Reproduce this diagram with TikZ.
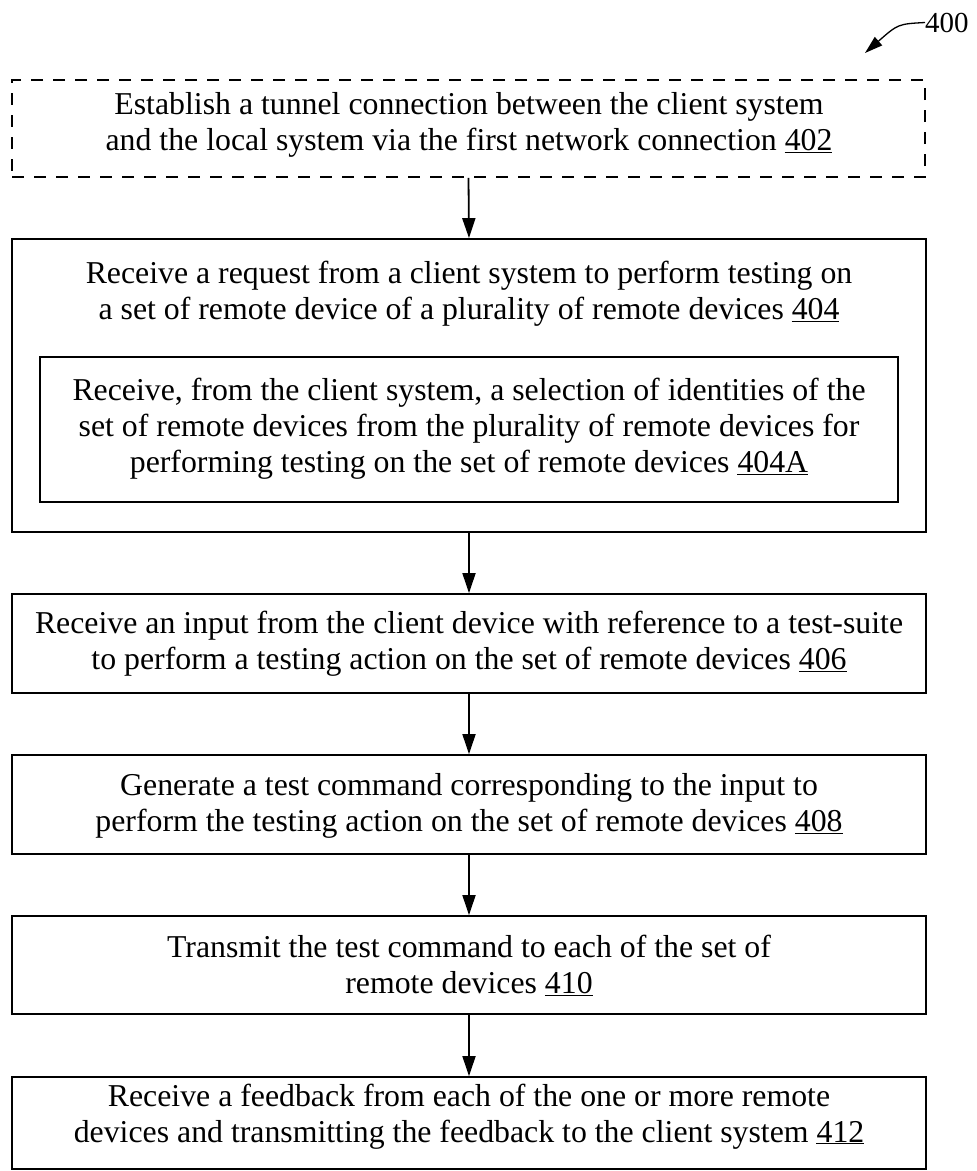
\documentclass[tikz,border=0pt]{standalone}
\usepackage{fontspec}
\setmainfont{Liberation Serif}
\usetikzlibrary{arrows.meta}
\begin{document}
\begin{tikzpicture}[x=1pt,y=-1pt,
  box/.style={draw, line width=1.8pt, rectangle, inner sep=0pt},
  dbox/.style={box, dash pattern=on 12pt off 10pt},
  txt/.style={font=\fontsize{31.8}{36}\selectfont, align=center, inner sep=0pt, anchor=base},
  arr/.style={line width=1.8pt, -{Triangle[length=20pt,width=13pt]}}]
\useasboundingbox (0,0) rectangle (977,1171);
% boxes
\node[dbox, minimum width=913pt, minimum height=97pt] (b402) at (468.5,128.5) {};
\node[box, minimum width=914pt, minimum height=293pt] (b404) at (469,385.5) {};
\node[box, minimum width=858pt, minimum height=145pt] (b404a) at (469,429.5) {};
\node[box, minimum width=914pt, minimum height=99pt] (b406) at (469,643.5) {};
\node[box, minimum width=914pt, minimum height=99pt] (b408) at (469,804.5) {};
\node[box, minimum width=914pt, minimum height=98pt] (b410) at (469,965) {};
\node[box, minimum width=914pt, minimum height=92pt] (b412) at (469,1123) {};
% texts (anchored at the baseline of the last line)
\node[txt] (t402) at (469,150) {Establish a tunnel connection between the client system\\and the local system via the first network connection \underline{402}};
\node[txt] (t404) at (469,319) {Receive a request from a client system to perform testing on\\a set of remote device of a plurality of remote devices \underline{404}};
\node[txt] (t404a) at (469,472) {Receive, from the client system, a selection of identities of the\\set of remote devices from the plurality of remote devices for\\performing testing on the set of remote devices \underline{404A}};
\node[txt] (t406) at (469,669) {Receive an input from the client device with reference to a test-suite\\to perform a testing action on the set of remote devices \underline{406}};
\node[txt] (t408) at (469,831) {Generate a test command corresponding to the input to\\perform the testing action on the set of remote devices \underline{408}};
\node[txt] (t410) at (469,993) {Transmit the test command to each of the set of\\remote devices \underline{410}};
\node[txt] (t412) at (469,1142) {Receive a feedback from each of the one or more remote\\devices and transmitting the feedback to the client system \underline{412}};
% connectors
\draw[arr] (b402.south) -- (b404.north);
\draw[arr] (b404.south) -- (b406.north);
\draw[arr] (b406.south) -- (b408.north);
\draw[arr] (b408.south) -- (b410.north);
\draw[arr] (b410.south) -- (b412.north);
% figure label
\node[font=\fontsize{29}{34}\selectfont, inner sep=0pt, anchor=base west] (lbl) at (925,32) {400};
\coordinate (tip) at (865,53);
\draw[line width=1.3pt, -{Triangle[length=18pt,width=11pt]}] (lbl.west) .. controls (898,24) .. (tip);
\end{tikzpicture}
\end{document}
